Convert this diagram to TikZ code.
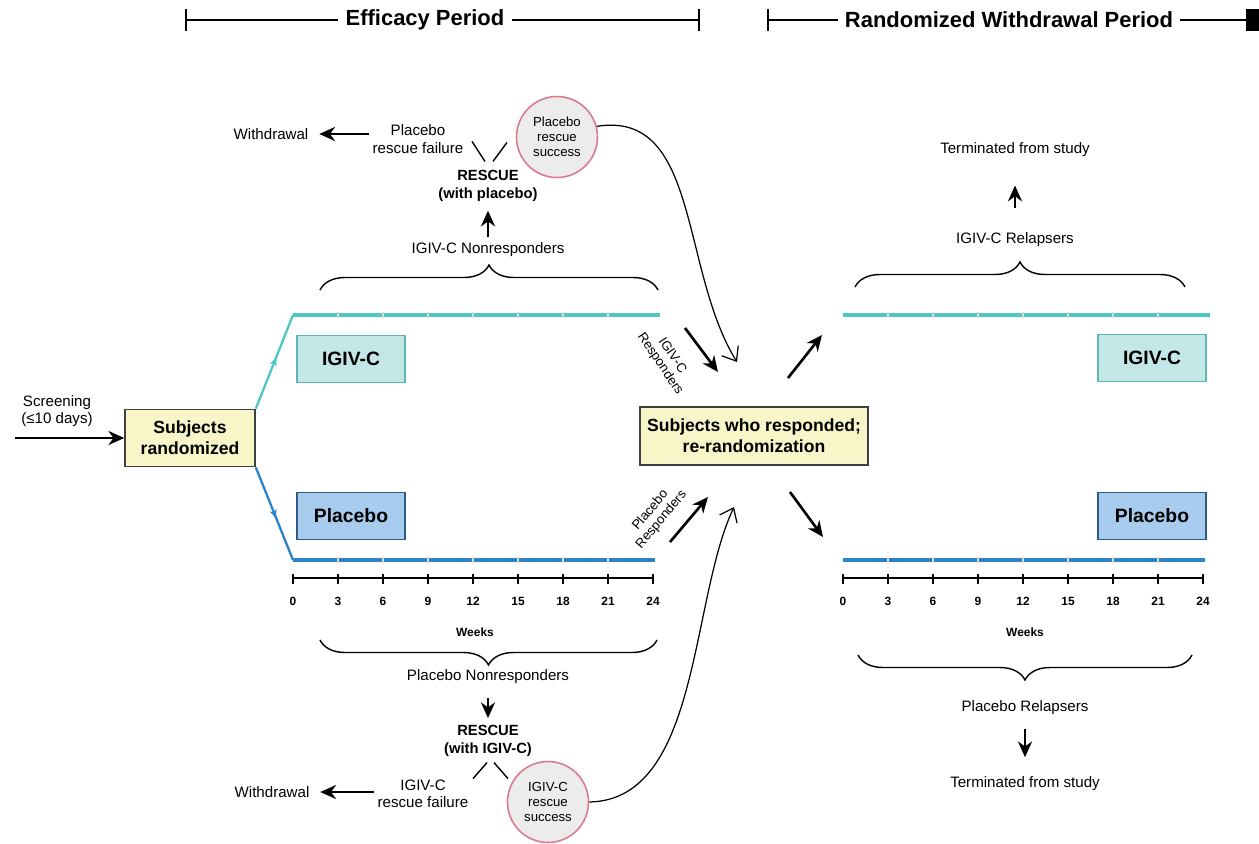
\documentclass[tikz,border=0pt]{standalone}
\usepackage{fontspec}
\setmainfont{Liberation Sans}
\usetikzlibrary{arrows.meta,decorations.pathreplacing,decorations.markings,positioning,calc}

\definecolor{igivcol}{HTML}{4DC7C3}
\definecolor{placcol}{HTML}{2B82C6}
\definecolor{igivfill}{HTML}{C3E6E6}
\definecolor{igivedge}{HTML}{5DB5B5}
\definecolor{placfill}{HTML}{A8CCEE}
\definecolor{placedge}{HTML}{2E5C88}
\definecolor{boxfill}{HTML}{F8F6C8}
\definecolor{circfill}{HTML}{ECECEC}
\definecolor{circedge}{HTML}{D97A8E}

\begin{document}
\begin{tikzpicture}[x=0.02cm,y=-0.02cm,
    lbl/.style={font=\fontsize{8.6}{10}\selectfont,align=center,inner sep=1pt},
    blbl/.style={font=\fontsize{8.4}{10}\selectfont\bfseries,align=center,inner sep=1pt},
    hdr/.style={font=\fontsize{12.5}{14}\selectfont\bfseries,inner sep=4pt},
    yelbox/.style={draw=black!75,fill=boxfill,line width=0.9pt,font=\fontsize{10}{12}\selectfont\bfseries,align=center},
    armbox/.style={line width=1pt,minimum width=2.16cm,minimum height=0.94cm,font=\fontsize{11}{13}\selectfont\bfseries},
    igivbox/.style={armbox,draw=igivedge,fill=igivfill},
    placbox/.style={armbox,draw=placedge,fill=placfill},
    rescirc/.style={circle,draw=circedge,fill=circfill,line width=0.9pt,minimum size=1.62cm,inner sep=0pt,font=\fontsize{7.5}{8.5}\selectfont,align=center},
    bigarrow/.style={-{Stealth[length=9pt,width=8pt]},line width=1.5pt},
    openarrow/.style={-{Straight Barb[length=7pt,width=11pt]},line width=0.7pt},
    brc/.style={decorate,decoration={brace,amplitude=0.5cm},line width=0.8pt},
    midarrow/.style={postaction={decorate},decoration={markings,mark=at position 0.55 with {\arrow{Stealth[length=5pt,width=4pt]}}}},
    wkfont/.style={font=\fontsize{6.8}{7}\selectfont\bfseries,inner sep=1pt},
    rotlbl/.style={font=\fontsize{7.5}{8.2}\selectfont,align=center,inner sep=0pt}
  ]
  \useasboundingbox (0,0) rectangle (1259,843);

  % period headers
  \node[hdr] (effhd) at (425,20) {Efficacy Period};
  \draw[line width=1.4pt,{Bar[width=12pt]}-] (185,20) -- (effhd.west);
  \draw[line width=1.4pt,-{Bar[width=12pt]}] (effhd.east) -- (700,20);
  \node[hdr] (rwhd) at (1009,20) {Randomized Withdrawal Period};
  \draw[line width=1.4pt,{Bar[width=12pt]}-] (767,20) -- (rwhd.west);
  \draw[line width=1.4pt] (rwhd.east) -- (1246,20);
  \fill (1246,9) rectangle (1259,31);

  % randomization
  \coordinate (scrstart) at (15,438);
  \node[yelbox,minimum width=2.6cm,minimum height=1.14cm] (rand) at (190,438) {Subjects\\randomized};
  \node[lbl] (scr) at (57,411) {Screening\\(≤10 days)};
  \draw[bigarrow] (scrstart) -- (rand);

  % treatment arms
  \coordinate (ig0) at (293,315); \coordinate (ig24) at (660,315);
  \coordinate (pl0) at (293,560); \coordinate (pl24) at (655,560);
  \coordinate (rig0) at (843,315); \coordinate (rig24) at (1210,315);
  \coordinate (rpl0) at (843,560); \coordinate (rpl24) at (1205,560);
  \draw[igivcol,line width=1.3pt,midarrow] (rand.north east) -- (ig0);
  \draw[placcol,line width=1.3pt,midarrow] (rand.south east) -- (pl0);
  \draw[igivcol,line width=2pt] (ig0) -- (ig24);
  \draw[placcol,line width=2pt] (pl0) -- (pl24);
  \draw[igivcol,line width=2pt] (rig0) -- (rig24);
  \draw[placcol,line width=2pt] (rpl0) -- (rpl24);
  \foreach \ox in {293,843}{
    \foreach \w in {1,...,7}{
      \pgfmathsetmacro{\px}{\ox+45*\w}
      \draw[white!70!gray,line width=0.6pt] (\px,312) -- (\px,318);
      \draw[white!70!gray,line width=0.6pt] (\px,557) -- (\px,563);
    }
  }
  \node[igivbox] (igivL) at (351,359) {IGIV-C};
  \node[placbox] (placL) at (351,516) {Placebo};
  \node[igivbox] (igivR) at (1152,358) {IGIV-C};
  \node[placbox] (placR) at (1152,516) {Placebo};

  % week axes
  \foreach \ox/\ax in {293/left,843/right}{
    \draw[line width=1.2pt] (\ox,578) -- (\ox+360,578);
    \foreach \w in {0,...,8}{
      \pgfmathtruncatemacro{\wk}{3*\w}
      \pgfmathsetmacro{\px}{\ox+45*\w}
      \draw[line width=1pt] (\px,574) -- (\px,584);
      \node[wkfont] (\ax-wk\w) at (\px,601) {\wk};
    }
    \node[wkfont] (\ax-weeks) at (\ox+182,632) {Weeks};
  }

  % IGIV-C nonresponders
  \draw[brc] (320,290) -- (658,290);
  \node[lbl] (ignr) at (488,250) {IGIV-C Nonresponders};
  \node[blbl] (rescT) at (488,186) {RESCUE\\(with placebo)};
  \draw[bigarrow,shorten <=2pt,shorten >=4pt] (ignr.north) -- (rescT.south);
  \node[lbl] (failT) at (418,139) {Placebo\\rescue failure};
  \node[lbl] (wdT) at (271,134) {Withdrawal};
  \draw[bigarrow,shorten <=1pt,shorten >=5pt] (wdT.east -| failT.west) -- (wdT.east);
  \node[rescirc] (succT) at (557,137) {Placebo\\rescue\\success};
  \draw[line width=0.8pt] (rescT.north) ++(-3,-7) -- ++(-13,-20);
  \draw[line width=0.8pt] (rescT.north) ++(5,-7) -- ++(14,-19);

  % placebo nonresponders
  \draw[brc] (657,640) -- (320,640);
  \node[lbl] (plnr) at (488,677) {Placebo Nonresponders};
  \node[blbl] (rescB) at (488,741) {RESCUE\\(with IGIV-C)};
  \draw[bigarrow,shorten <=7pt,shorten >=3pt] (plnr.south) -- (rescB.north);
  \node[lbl] (failB) at (423,794) {IGIV-C\\rescue failure};
  \node[lbl] (wdB) at (272,792) {Withdrawal};
  \draw[bigarrow,shorten <=1pt,shorten >=5pt] (wdB.east -| failB.west) -- (wdB.east);
  \node[rescirc] (succB) at (548,802) {IGIV-C\\rescue\\success};
  \draw[line width=0.8pt] (rescB.south) ++(-1,4) -- ++(-14,16);
  \draw[line width=0.8pt] (rescB.south) ++(6,4) -- ++(14,16);

  % re-randomization
  \node[yelbox,minimum width=4.56cm,minimum height=1.16cm] (rerand) at (754,436) {Subjects who responded;\\re-randomization};
  \coordinate (inTop) at (737,362);
  \coordinate (inBot) at (734,507);
  \draw[openarrow] (succT.15) .. controls (700,110) and (680,270) .. (inTop);
  \draw[openarrow] (succB.east) .. controls (700,800) and (690,600) .. (inBot);
  \coordinate (igrA) at (685,328); \coordinate (igrB) at (718,372);
  \coordinate (plrA) at (670,542); \coordinate (plrB) at (708,497);
  \draw[bigarrow] (igrA) -- (igrB);
  \draw[bigarrow] (plrA) -- (plrB);
  \node[rotlbl,rotate=-56] (igresp) at (666,360) {IGIV-C\\Responders};
  \node[rotlbl,rotate=50] (plresp) at (656,515) {Placebo\\Responders};
  \coordinate (outA1) at (788,378); \coordinate (outA2) at (822,335);
  \coordinate (outB1) at (790,492); \coordinate (outB2) at (823,537);
  \draw[bigarrow] (outA1) -- (outA2);
  \draw[bigarrow] (outB1) -- (outB2);

  % relapsers
  \draw[brc] (855,287) -- (1185,287);
  \node[lbl] (igrel) at (1015,240) {IGIV-C Relapsers};
  \node[lbl] (termT) at (1015,150) {Terminated from study};
  \draw[bigarrow,shorten <=13pt,shorten >=15pt] (igrel.north) -- (termT.south);
  \draw[brc] (1192,655) -- (858,655);
  \node[lbl] (plrel) at (1025,708) {Placebo Relapsers};
  \node[lbl] (termB) at (1025,784) {Terminated from study};
  \draw[bigarrow,shorten <=7pt,shorten >=10pt] (plrel.south) -- (termB.north);
\end{tikzpicture}
\end{document}
